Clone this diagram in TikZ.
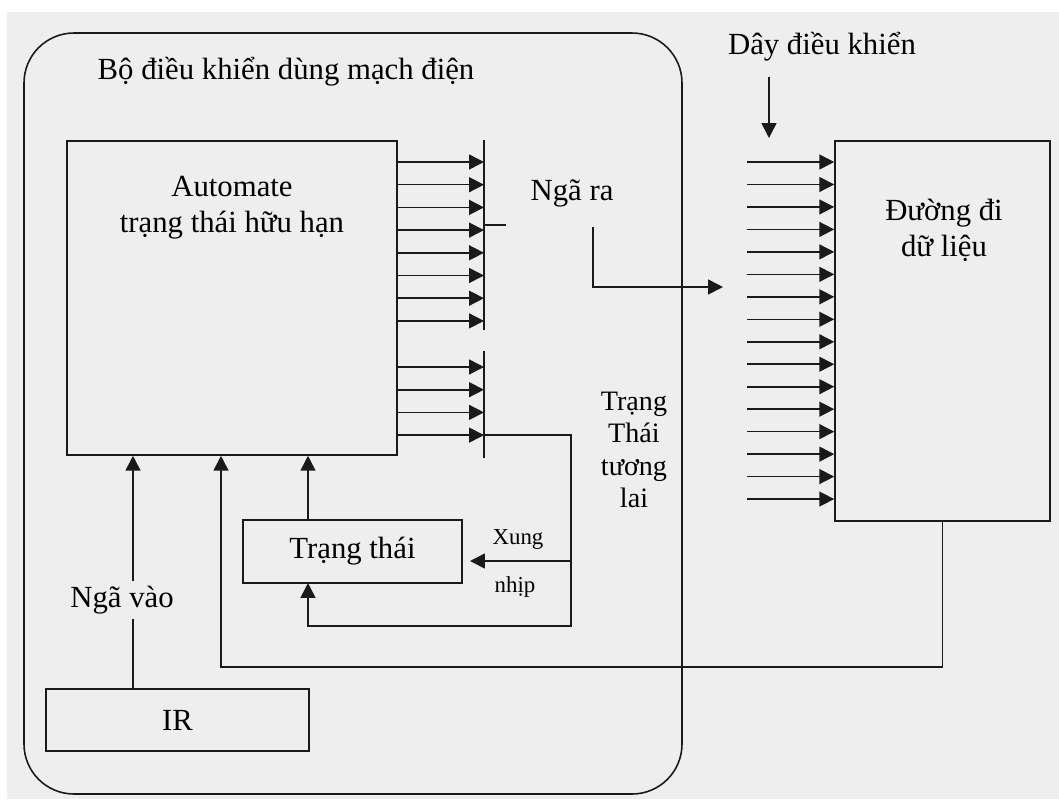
\documentclass[tikz,border=0pt]{standalone}
\usepackage{fontspec}
\setmainfont{Liberation Serif}
\usetikzlibrary{arrows.meta,positioning}
\definecolor{bggray}{HTML}{EEEEEE}
\definecolor{ink}{HTML}{1A1A1A}

\begin{document}
\begin{tikzpicture}[
  x=0.02cm, y=-0.02cm,
  font=\fontsize{17.5}{20.5}\selectfont,
  blk/.style={draw=ink,line width=0.9pt,inner sep=0pt},
  lbl/.style={align=center,inner sep=1pt},
  small/.style={font=\fontsize{13}{15}\selectfont,inner sep=1pt},
  ln/.style={ink,line width=0.9pt},
  arr/.style={-{Triangle[length=8.5pt,width=8.5pt]},ink,line width=0.9pt},
]
  \useasboundingbox (0,0) rectangle (1059,799);
  \fill[bggray] (7,12) rectangle (1059,799);

  % hardwired control unit frame
  \draw[ln,rounded corners=1cm] (24,33) rectangle (682,794);
  \node[lbl] (title) at (286,72) {Bộ điều khiển dùng mạch điện};

  % blocks
  \node[blk,minimum width=6.6cm,minimum height=6.28cm] (fsm) at (232,298) {};
  \node[lbl] (fsmtxt) at (232,208) {Automate\\trạng thái  hữu hạn};
  \node[blk,minimum width=4.38cm,minimum height=1.26cm] (state) at (352.5,551.5) {Trạng thái};
  \node[blk,minimum width=5.26cm,minimum height=1.24cm] (ir) at (177.5,720) {IR};
  \node[blk,minimum width=4.3cm,minimum height=7.6cm] (dp) at (942.5,331) {};
  \node[lbl] (dptxt) at (944,230) {Đường đi\\dữ liệu};

  % output bars
  \coordinate (obarA) at (484,140);
  \coordinate (obarB) at (484,330);
  \coordinate (nbarA) at (484,351);
  \coordinate (nbarB) at (484,458);
  \draw[ln] (obarA) -- (obarB);
  \draw[ln] (nbarA) -- (nbarB);
  \coordinate (tick) at (506,225);
  \draw[ln,line width=0.6pt] (obarA |- tick) -- (tick);

  \foreach \i in {0,...,7}{
    \coordinate (o\i) at (440,162+22.7*\i);
    \draw[arr] (fsm.east |- o\i) -- (obarA |- o\i);
  }
  \foreach \i in {0,...,3}{
    \coordinate (n\i) at (440,367+22.7*\i);
    \draw[arr] (fsm.east |- n\i) -- (nbarA |- n\i);
  }

  % next state feedback
  \coordinate (fb) at (571,626);
  \coordinate (sin) at (308,583);
  \coordinate (clk) at (470,561);
  \draw[arr] (nbarA |- n3) -| (fb) -| (sin);
  \draw[arr] (fb |- clk) -- (clk);
  \draw[arr] (state.north -| sin) -- (fsm.south -| sin);
  \node[small] (xung) at (518,539) {Xung};
  \node[small] (nhip) at (515,587) {nhịp};
  \node[lbl,font=\fontsize{16}{18.5}\selectfont] (ttl) at (634,450)
    {Trạng\\Thái\\tương\\lai};

  % outputs to datapath
  \node[lbl] (ngara) at (572,193) {Ngã ra};
  \coordinate (oa) at (593,227);
  \coordinate (ob) at (723,287);
  \draw[arr] (oa) |- (ob);

  % control lines
  \node[lbl] (ctltxt) at (822,47) {Dây điều khiển};
  \coordinate (cta) at (769,77);
  \coordinate (ctb) at (769,138);
  \draw[arr] (cta) -- (ctb);
  \foreach \i in {0,...,15}{
    \coordinate (c\i) at (747,162+22.47*\i);
    \draw[arr] (c\i) -- (dp.west |- c\i);
  }

  % inputs
  \coordinate (inx) at (133,455);
  \draw[arr] (ir.north -| inx) -- (fsm.south -| inx);
  \node[lbl,fill=bggray,inner sep=3pt] (ngavao) at (122,600) {Ngã vào};

  % datapath status back to fsm
  \coordinate (fbl) at (221,667);
  \draw[arr] (dp.south) |- (fbl) -- (fsm.south -| fbl);
\end{tikzpicture}
\end{document}
